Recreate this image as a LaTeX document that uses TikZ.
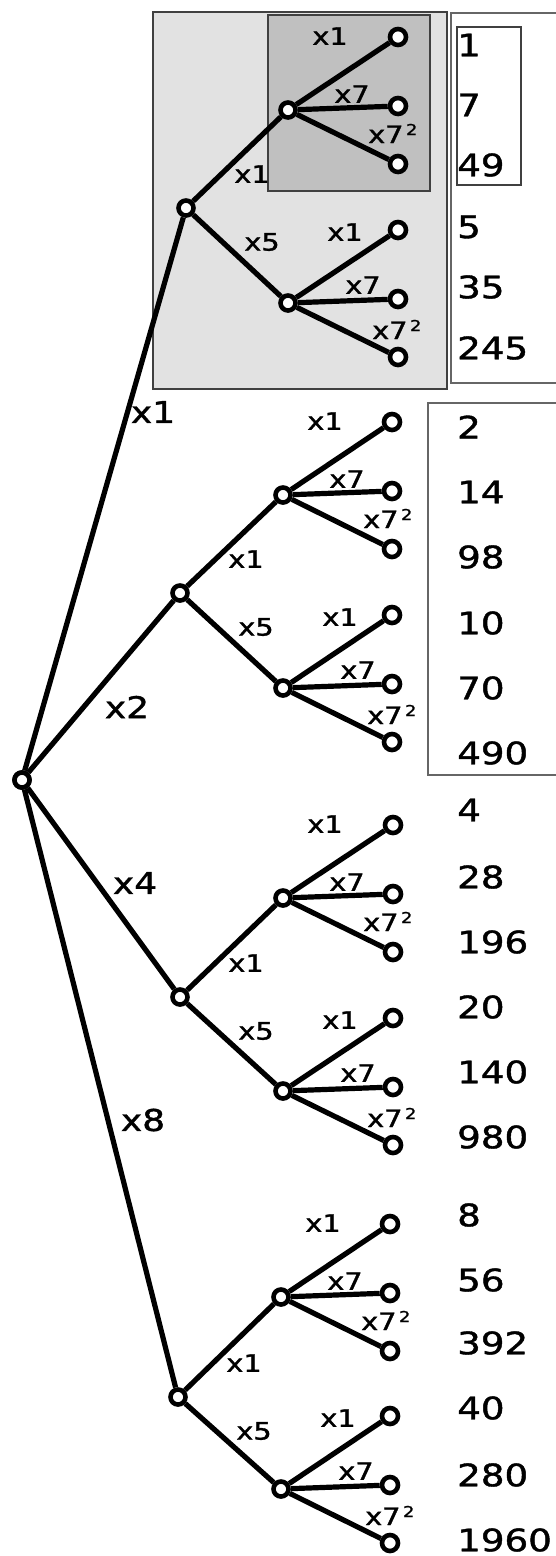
\documentclass[tikz,border=0pt]{standalone}
\usepackage{fontspec}
\setmainfont{DejaVu Sans}[FakeBold=1.2]
\usepackage{graphicx}
\definecolor{lightbox}{HTML}{E2E2E2}
\definecolor{darkbox}{HTML}{C0C0C0}
\definecolor{boxline}{HTML}{404040}
\newcommand{\stretchtxt}[1]{\scalebox{1.2}[1]{#1}}
\newcommand{\sqsev}{\stretchtxt{x7\hspace{2pt}\raisebox{8pt}{\fontsize{15}{15}\selectfont 2}}}
\begin{document}
\begin{tikzpicture}[x=1pt,y=-1pt,
  treenode/.style={circle, draw=black, line width=4.6pt, fill=white, minimum size=15pt, inner sep=0pt},
  leafnode/.style={circle, draw=black, line width=4.6pt, fill=white, minimum size=16pt, inner sep=0pt},
  edge/.style={line width=5.2pt},
  numtxt/.style={anchor=west, inner sep=0pt, font=\fontsize{31}{31}\selectfont},
  biglbl/.style={inner sep=0pt, font=\fontsize{30}{30}\selectfont},
  lbl/.style={inner sep=0pt, font=\fontsize{24}{24}\selectfont},
  supl/.style={anchor=base west, inner sep=0pt, font=\fontsize{24}{24}\selectfont},
  graybox/.style={fill=lightbox, draw=boxline, line width=1.8pt},
  darkgraybox/.style={fill=darkbox, draw=boxline, line width=1.8pt},
  whitebox/.style={fill=white, draw=boxline!80, line width=1.6pt},
  thinbox/.style={draw=boxline, line width=1.1pt}
]
\useasboundingbox (0,0) rectangle (556,1556);
\fill[white] (0,0) rectangle (556,1556);

% boxes
\draw[graybox] (153,12) rectangle (447,389);
\draw[darkgraybox] (268,15) rectangle (430,191);
\draw[whitebox] (451,13) rectangle (570,383);
\draw[thinbox] (457,27) rectangle (521,185);
\draw[whitebox] (428,403) rectangle (570,775);

% root
\node[treenode] (R) at (22,780) {};

\foreach \g/\ax/\ay/\bx/\bu/\bd/\lx in {1/186/208/288/110/303/398, 2/180/593/283/495/688/392, 3/180/997/283/898/1091/393, 4/178/1397/281/1297/1489/390} {
  \node[treenode] (A\g) at (\ax,\ay) {};
  \node[treenode] (B\g u) at (\bx,\bu) {};
  \node[treenode] (B\g d) at (\bx,\bd) {};
  \node[leafnode] (L\g u1) at (\lx,{\bu-73}) {};
  \node[leafnode] (L\g u2) at (\lx,{\bu-4}) {};
  \node[leafnode] (L\g u3) at (\lx,{\bu+54}) {};
  \node[leafnode] (L\g d1) at (\lx,{\bd-73}) {};
  \node[leafnode] (L\g d2) at (\lx,{\bd-4}) {};
  \node[leafnode] (L\g d3) at (\lx,{\bd+54}) {};
  \draw[edge] (R) -- (A\g);
  \draw[edge] (A\g) -- (B\g u);
  \draw[edge] (A\g) -- (B\g d);
  \foreach \s in {u,d} {
    \foreach \k in {1,2,3} {
      \draw[edge] (B\g\s) -- (L\g\s\k);
    }
  }
  % labels
  \node[lbl] (lab\g a) at ({\ax+66},{\ay-34}) {\stretchtxt{x1}};
  \node[lbl] (lab\g b) at ({\ax+76},{\ay+34}) {\stretchtxt{x5}};
  \node[lbl] (lab\g u1) at ({\bx+42},{\bu-74}) {\stretchtxt{x1}};
  \node[lbl] (lab\g u2) at ({\bx+64},{\bu-16}) {\stretchtxt{x7}};
  \node[supl] (lab\g u3) at ({\bx+80},{\bu+33}) {\sqsev};
  \node[lbl] (lab\g d1) at ({\bx+57},{\bd-71}) {\stretchtxt{x1}};
  \node[lbl] (lab\g d2) at ({\bx+75},{\bd-18}) {\stretchtxt{x7}};
  \node[supl] (lab\g d3) at ({\bx+84},{\bd+36}) {\sqsev};
}
% root drawn again above its edges
\node[treenode] at (22,780) {};

% top level labels
\node[biglbl] (t1) at (153,412) {\stretchtxt{x1}};
\node[biglbl] (t2) at (127,707) {\stretchtxt{x2}};
\node[biglbl] (t4) at (135,883) {\stretchtxt{x4}};
\node[biglbl] (t8) at (143,1120) {\stretchtxt{x8}};

% result numbers
\foreach \v/\y [count=\i] in {1/45, 7/105, 49/165, 5/227, 35/287, 245/348,
  2/427, 14/492, 98/557, 10/623, 70/688, 490/753,
  4/810, 28/877, 196/942, 20/1007, 140/1072, 980/1137,
  8/1215, 56/1280, 392/1343, 40/1408, 280/1475, 1960/1540} {
  \node[numtxt] (n\i) at (457,\y) {\stretchtxt{\v}};
}
\end{tikzpicture}
\end{document}
